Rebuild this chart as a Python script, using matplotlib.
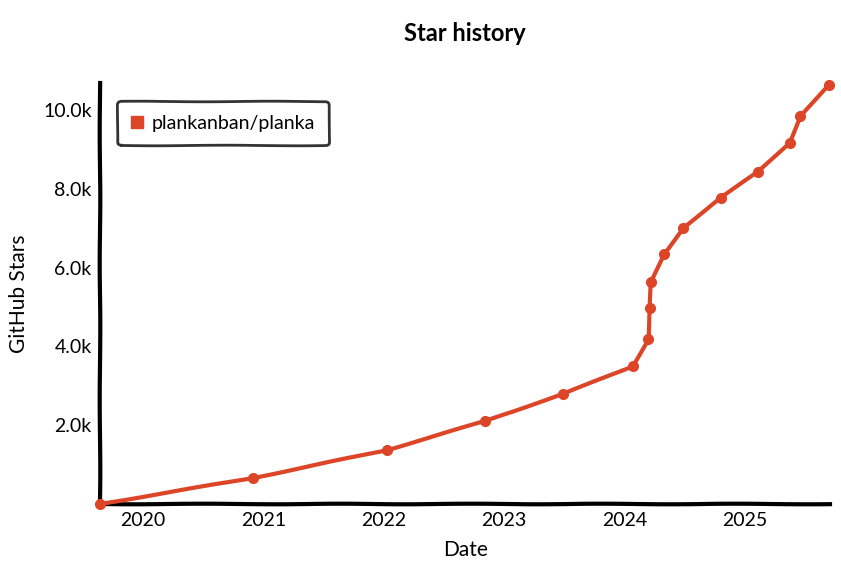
import matplotlib
matplotlib.use("Agg")
import matplotlib.pyplot as plt
import matplotlib.dates as mdates
from matplotlib.lines import Line2D
import pandas as pd

dates = ["2019-08-25", "2020-12-01", "2022-01-12", "2022-11-03", "2023-06-28",
         "2024-01-26", "2024-03-14", "2024-03-18", "2024-03-22", "2024-05-01",
         "2024-06-28", "2024-10-19", "2025-02-10", "2025-05-16", "2025-06-18",
         "2025-09-13"]
stars = [0, 660, 1370, 2100, 2790, 3490, 4180, 4960, 5620, 6330,
         7010, 7770, 8430, 9160, 9850, 10630]
series_name = "plankanban/planka"
yticks = [2000, 4000, 6000, 8000, 10000]
ytick_labels = ["2.0k", "4.0k", "6.0k", "8.0k", "10.0k"]

color = "#dd4528"

plt.xkcd(scale=0.3, length=150, randomness=2)
plt.rcParams['font.family'] = ['Lato', 'DejaVu Sans']
plt.rcParams['path.effects'] = []

x = pd.to_datetime(dates)

fig = plt.figure(figsize=(8.41, 5.65), dpi=100)
ax = fig.add_axes([0.119, 0.108, 0.868, 0.745])
ax.plot(x, stars, color=color, lw=3, marker='o', markersize=7,
        solid_capstyle='round', clip_on=False, zorder=5)

ax.set_xlim(x[0], x[-1] + pd.Timedelta(days=3))
ax.set_ylim(0, 10680)
ax.set_yticks(yticks)
ax.set_yticklabels(ytick_labels)
ax.xaxis.set_major_locator(mdates.YearLocator())
ax.xaxis.set_major_formatter(mdates.DateFormatter('%Y'))

for s in ['top', 'right']:
    ax.spines[s].set_visible(False)
for s in ['left', 'bottom']:
    ax.spines[s].set_linewidth(3)
    ax.spines[s].set_color('black')
ax.tick_params(axis='both', length=0, labelsize=14, pad=6)

ax.set_title("Star history", fontsize=17, fontweight='bold', pad=30)
ax.set_xlabel("Date", fontsize=15, labelpad=8)
ax.set_ylabel("GitHub Stars", fontsize=15, labelpad=10)

handle = Line2D([], [], color=color, marker='s', linestyle='None', markersize=9)
leg = ax.legend([handle], [series_name], loc='upper left', bbox_to_anchor=(0.01, 0.98),
                fontsize=14, frameon=True, fancybox=True, handlelength=0.6,
                handletextpad=0.5, borderpad=0.7)
leg.get_frame().set_edgecolor('black')
leg.get_frame().set_linewidth(2)

fig.savefig("out.png", dpi=100)
